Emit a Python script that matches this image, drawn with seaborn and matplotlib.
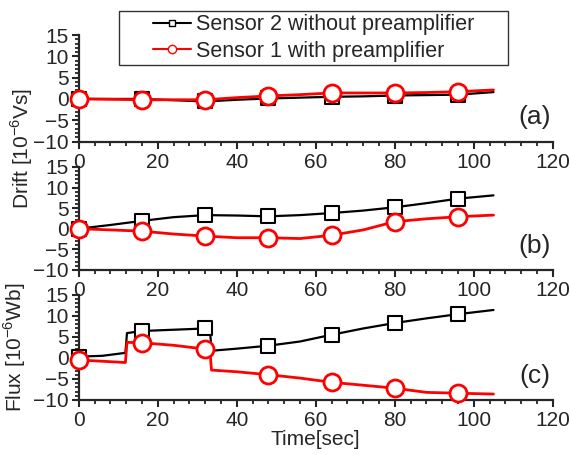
import numpy as np
import pandas as pd
import matplotlib
matplotlib.use("Agg")
import matplotlib.pyplot as plt
import seaborn as sns
from matplotlib.lines import Line2D
from matplotlib.patches import Rectangle
from matplotlib.ticker import MultipleLocator, AutoMinorLocator

# data
sensors = ["Sensor 2 without preamplifier", "Sensor 1 with preamplifier"]
marker_times = [0, 16, 32, 48, 64, 80, 96]

t_a = [0, 8, 16, 24, 32, 40, 48, 56, 64, 72, 80, 88, 96, 105]
black_a = [0, 0, 0, -0.3, -0.6, -0.2, 0.1, 0.3, 0.5, 0.6, 0.8, 0.9, 1.0, 1.6]
red_a = [0, -0.1, -0.2, -0.2, -0.2, 0.3, 0.7, 1.0, 1.4, 1.4, 1.4, 1.5, 1.7, 2.1]

t_b = [0, 8, 16, 24, 32, 40, 48, 56, 64, 72, 80, 88, 96, 105]
black_b = [0, 0.9, 1.9, 2.8, 3.3, 3.2, 3.0, 3.3, 3.8, 4.4, 5.2, 6.2, 7.3, 8.1]
red_b = [0, -0.3, -0.6, -1.3, -1.8, -2.2, -2.2, -2.4, -1.6, -0.3, 1.7, 2.4, 2.9, 3.3]

t_c = [0, 6, 11.8, 12.2, 16, 24, 32, 33.2, 33.6, 40, 48, 56, 64, 72, 80, 88, 96, 105]
black_c = [0.3, 0.5, 1.2, 5.9, 6.4, 6.7, 7.0, 6.9, 1.7, 2.2, 2.9, 3.9, 5.5, 7.0, 8.3, 9.4, 10.4, 11.4]
red_c = [-0.5, -0.8, -1.1, 3.7, 3.6, 3.0, 2.1, 1.8, -2.9, -3.3, -4.0, -4.8, -5.8, -6.5, -7.2, -8.2, -8.4, -8.6]

panels = [("(a)", t_a, black_a, red_a),
          ("(b)", t_b, black_b, red_b),
          ("(c)", t_c, black_c, red_c)]

sns.set_style("ticks")
plt.rcParams['font.family'] = ['Liberation Sans', 'DejaVu Sans']
plt.rcParams['mathtext.fontset'] = 'custom'
plt.rcParams['mathtext.rm'] = 'Liberation Sans'

W, H = 571, 455
fig = plt.figure(figsize=(W / 100, H / 100), dpi=100)
boxes = [[0.138, 0.689, 0.830, 0.234],
         [0.138, 0.407, 0.830, 0.226],
         [0.138, 0.121, 0.830, 0.231]]

colors = {sensors[0]: "black", sensors[1]: "red"}
mk = {sensors[0]: ("s", 95, 1.5), sensors[1]: ("o", 150, 2.0)}
lws = {sensors[0]: 1.6, sensors[1]: 2.0}

for box, (tag, t, blk, red) in zip(boxes, panels):
    ax = fig.add_axes(box)
    df = pd.DataFrame({"time": t * 2,
                       "value": blk + red,
                       "sensor": [sensors[0]] * len(t) + [sensors[1]] * len(t)})
    for s in sensors:
        sub = df[df["sensor"] == s]
        sns.lineplot(data=sub, x="time", y="value", color=colors[s], lw=lws[s],
                     estimator=None, sort=False, ax=ax, legend=False)
        pts = sub[sub["time"].isin(marker_times)]
        m, size, ew = mk[s]
        sns.scatterplot(data=pts, x="time", y="value", marker=m, s=size,
                        color="white", edgecolor=colors[s], linewidth=ew,
                        ax=ax, legend=False, zorder=5, clip_on=False)
    ax.set_xlim(0, 120)
    ax.set_ylim(-10, 15)
    ax.xaxis.set_major_locator(MultipleLocator(20))
    ax.xaxis.set_minor_locator(AutoMinorLocator(5))
    ax.yaxis.set_major_locator(MultipleLocator(5))
    ax.yaxis.set_minor_locator(AutoMinorLocator(5))
    ax.tick_params(which="major", direction="out", length=5, width=1.5,
                   labelsize=15, pad=2)
    ax.tick_params(axis="x", which="major", pad=3)
    ax.tick_params(which="minor", direction="out", length=3, width=1.3)
    for side in ["top", "right"]:
        ax.spines[side].set_visible(False)
    for side in ["left", "bottom"]:
        ax.spines[side].set_linewidth(1.6)
    ax.patch.set_alpha(0)
    ax.set_xlabel("")
    ax.set_ylabel("")
    ax.text(0.962, 0.23, tag, transform=ax.transAxes, fontsize=19,
            ha="center", va="center")
    if tag == "(c)":
        ax.set_xlabel("Time[sec]", fontsize=15, labelpad=0)
        ax.set_ylabel(r"Flux [10$^{-6}$Wb]", fontsize=15, labelpad=4)

fig.text(22 / W, 1 - 148 / H, r"Drift [10$^{-6}$Vs]", rotation=90,
         fontsize=15, ha="center", va="center")

# legend frame drawn by hand (box is wider than its content)
fig.patches.append(Rectangle((119 / W, 1 - 65 / H), 389 / W, 54 / H,
                             transform=fig.transFigure, fill=True,
                             facecolor="white", edgecolor="#333333",
                             lw=1.0, zorder=10))
handles = [Line2D([], [], color="black", lw=1.5, marker="s", ms=5,
                  mfc="white", mec="black"),
           Line2D([], [], color="red", lw=1.5, marker="o", ms=6,
                  mfc="white", mec="red")]
leg = fig.legend(handles, sensors, loc="center left",
                 bbox_to_anchor=(153 / W, 1 - 38 / H),
                 fontsize=15.5, frameon=False, handlelength=1.75,
                 handletextpad=0.25, borderpad=0.0, borderaxespad=0.0,
                 labelspacing=0.25)
leg.set_zorder(11)

fig.savefig("out.png", dpi=100)
